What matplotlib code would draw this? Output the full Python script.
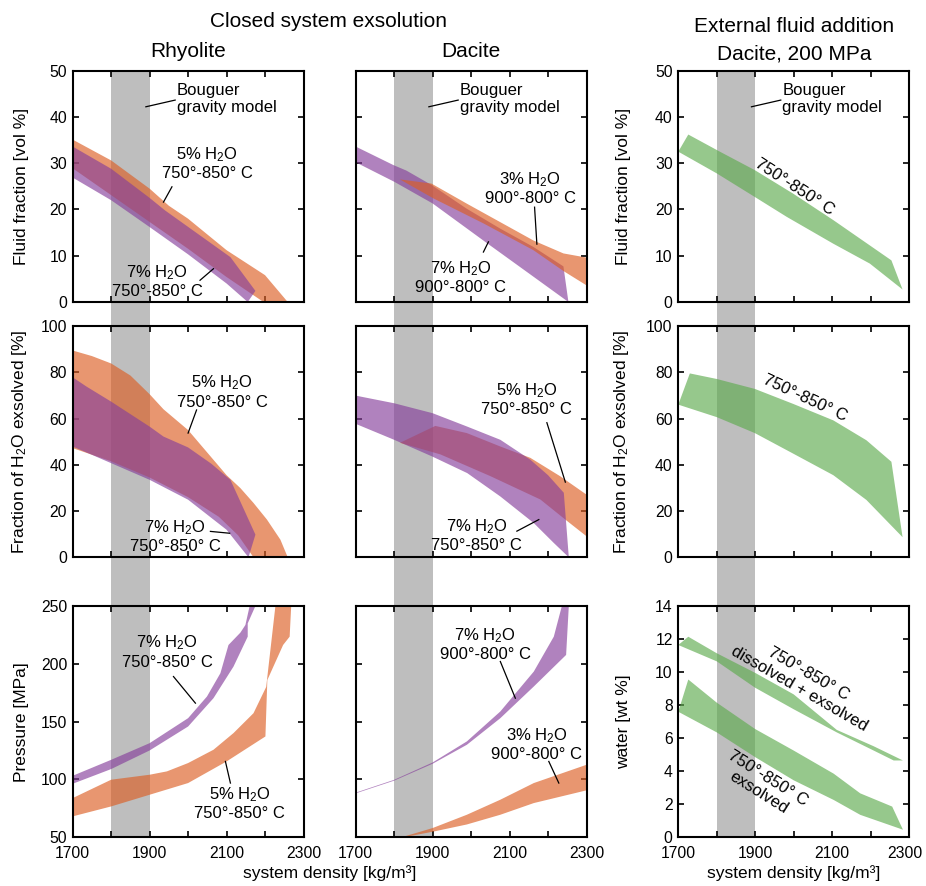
import matplotlib
matplotlib.use('Agg')
import matplotlib.pyplot as plt
import matplotlib.transforms as mtransforms
from matplotlib.patches import Rectangle

plt.rcParams['font.family'] = ['Liberation Sans', 'DejaVu Sans']
plt.rcParams['mathtext.fontset'] = 'custom'
plt.rcParams['mathtext.rm'] = 'Liberation Sans'
plt.rcParams['mathtext.it'] = 'Liberation Sans:italic'
plt.rcParams['mathtext.bf'] = 'Liberation Sans:bold'

# ============================================
# data, band = upper edge + lower edge
# ============================================

# row 1: fluid fraction [vol %]
rhy_ff5_top_x = [1700, 1800, 1900, 1950, 2000, 2100, 2200, 2259]
rhy_ff5_top_y = [35.1, 30.6, 24.5, 20.8, 18.0, 11.2, 5.8, 0.0]
rhy_ff5_bot_x = [1700, 1800, 1900, 2000, 2100, 2196]
rhy_ff5_bot_y = [28.9, 23.1, 17.3, 11.5, 5.4, 0.0]
rhy_ff7_top_x = [1700, 1800, 1900, 1940, 2110, 2175]
rhy_ff7_top_y = [33.6, 28.8, 22.5, 19.8, 9.7, 2.4]
rhy_ff7_bot_x = [1700, 1800, 1900, 2000, 2100, 2155]
rhy_ff7_bot_y = [26.9, 22.0, 16.2, 10.3, 4.0, 0.0]

dac_ff7_top_x = [1700, 1798, 1832, 1897, 1988, 2075, 2162, 2240]
dac_ff7_top_y = [33.6, 29.6, 28.4, 25.3, 20.2, 15.9, 11.9, 7.7]
dac_ff7_bot_x = [1700, 1800, 1900, 2040, 2150, 2253]
dac_ff7_bot_y = [30.2, 26.0, 21.3, 12.8, 6.2, 0.0]
dac_ff3_top_x = [1815, 1897, 1988, 2075, 2162, 2240, 2300]
dac_ff3_top_y = [26.5, 25.6, 21.3, 17.3, 13.3, 10.5, 9.6]
dac_ff3_bot_x = [1815, 1902, 2032, 2162, 2240, 2300]
dac_ff3_bot_y = [26.5, 22.4, 17.0, 11.2, 6.7, 3.6]

ext_ff_top_x = [1726, 1808, 1899, 1999, 2103, 2254, 2283]
ext_ff_top_y = [36.2, 32.5, 28.5, 23.4, 17.7, 9.0, 2.7]
ext_ff_bot_x = [1700, 1800, 1899, 1982, 2103, 2198, 2283]
ext_ff_bot_y = [32.5, 27.8, 22.7, 18.4, 12.6, 8.3, 2.7]

# row 2: fraction of H2O exsolved [%]
rhy_fx5_top_x = [1700, 1750, 1800, 1850, 1900, 1936, 2000, 2100, 2136, 2170, 2205, 2240, 2259]
rhy_fx5_top_y = [89.4, 87.0, 83.8, 78.6, 70.5, 64.0, 55.0, 35.5, 29.9, 23.5, 16.3, 7.6, 0.0]
rhy_fx5_bot_x = [1700, 1800, 1900, 2000, 2080, 2130, 2170]
rhy_fx5_bot_y = [47.2, 41.5, 34.5, 26.0, 17.5, 9.5, 0.0]
rhy_fx7_top_x = [1700, 1736, 1800, 1900, 1936, 2000, 2060, 2110, 2175]
rhy_fx7_top_y = [77.8, 73.8, 67.3, 56.5, 52.2, 47.5, 40.5, 33.5, 9.8]
rhy_fx7_bot_x = [1700, 1800, 1900, 2000, 2100, 2157]
rhy_fx7_bot_y = [47.9, 40.7, 33.5, 24.9, 11.9, 0.0]

dac_fx7_top_x = [1700, 1800, 1900, 1990, 2076, 2154, 2200, 2241]
dac_fx7_top_y = [69.9, 66.6, 62.3, 56.5, 50.8, 42.2, 35.5, 27.9]
dac_fx7_bot_x = [1700, 1800, 1900, 1990, 2076, 2163, 2215, 2254]
dac_fx7_bot_y = [57.7, 50.8, 43.5, 36.4, 26.3, 14.8, 6.2, 0.0]
dac_fx5_top_x = [1815, 1907, 1989, 2076, 2154, 2232, 2300]
dac_fx5_top_y = [49.5, 56.8, 53.7, 47.9, 43.0, 35.0, 27.1]
dac_fx5_bot_x = [1815, 1920, 2050, 2180, 2245, 2300]
dac_fx5_bot_y = [49.5, 44.5, 35.1, 25.0, 16.3, 9.1]

ext_fx_top_x = [1730, 1800, 1899, 1999, 2103, 2189, 2254]
ext_fx_top_y = [79.5, 77.1, 72.8, 66.3, 59.2, 50.6, 41.3]
ext_fx_bot_x = [1700, 1800, 1899, 1999, 2103, 2189, 2283]
ext_fx_bot_y = [66.0, 60.6, 53.7, 44.8, 35.5, 24.8, 8.7]

# row 3: pressure [MPa] / water [wt %]
rhy_p5_top_x = [1700, 1800, 1900, 1945, 2000, 2066, 2118, 2170, 2203, 2215, 2227]
rhy_p5_top_y = [83.9, 99.8, 104.1, 107.0, 114.2, 125.7, 140.1, 157.3, 180.0, 215.0, 250]
rhy_p5_bot_x = [1700, 1800, 1900, 2000, 2100, 2201, 2206, 2247, 2264, 2268]
rhy_p5_bot_y = [68.1, 76.7, 86.8, 96.9, 115.6, 137.2, 186.0, 216.3, 223.5, 250]
rhy_p7_top_x = [1700, 1800, 1900, 2000, 2049, 2084, 2105, 2136, 2149, 2160]
rhy_p7_top_y = [103.2, 117.0, 131.4, 153.0, 171.7, 191.9, 216.3, 227.0, 233.6, 250]
rhy_p7_bot_x = [1700, 1800, 1900, 2000, 2066, 2118, 2155, 2155, 2175]
rhy_p7_bot_y = [96.3, 109.0, 125.1, 145.8, 170.3, 197.6, 223.5, 235.0, 250]

dac_p7_top_x = [1700, 1800, 1900, 1989, 2076, 2163, 2215, 2236]
dac_p7_top_y = [88.6, 99.7, 114.7, 132.9, 158.8, 193.3, 223.5, 250]
dac_p7_bot_x = [1700, 1800, 1900, 1989, 2076, 2163, 2247, 2254]
dac_p7_bot_y = [88.0, 99.0, 113.6, 130.0, 153.0, 180.4, 207.7, 250]
dac_p3_top_x = [1824, 1900, 1989, 2076, 2163, 2300]
dac_p3_top_y = [50.5, 58.0, 69.5, 82.5, 96.9, 112.7]
dac_p3_bot_x = [1824, 1900, 1989, 2076, 2163, 2300]
dac_p3_bot_y = [50.0, 54.8, 61.1, 69.5, 79.6, 90.6]

ext_wt_top_x = [1726, 1800, 1900, 2000, 2112, 2208, 2284]
ext_wt_top_y = [12.14, 11.14, 9.95, 8.65, 6.50, 5.51, 4.65]
ext_wt_bot_x = [1700, 1800, 1900, 2000, 2112, 2208, 2260]
ext_wt_bot_y = [11.64, 10.65, 9.05, 7.75, 6.35, 5.25, 4.65]
ext_we_top_x = [1726, 1800, 1900, 2000, 2104, 2173, 2256]
ext_we_top_y = [9.55, 8.15, 6.55, 5.25, 3.85, 2.66, 1.86]
ext_we_bot_x = [1700, 1800, 1900, 2000, 2104, 2173, 2284]
ext_we_bot_y = [7.6, 6.35, 4.85, 3.45, 2.26, 1.36, 0.46]

bouguer = (1800, 1900)   # density range of the gravity model

ORANGE = '#DC5E23'
PURPLE = '#863F9B'
GREEN = '#5EAB4E'
ALPHA = 0.65

# ============================================
# helpers
# ============================================

def band(ax, xt, yt, xb, yb, color):
    ax.fill(list(xt) + list(xb)[::-1], list(yt) + list(yb)[::-1],
            color=color, alpha=ALPHA, lw=0, zorder=2)


def note(ax, s, x, y, line=None, rot=0):
    ax.text(x, y, s, ha='center', va='center', fontsize=12, rotation=rot,
            rotation_mode='anchor', zorder=5)
    if line is not None:
        ax.plot(line[0], line[1], color='k', lw=0.9, zorder=5)


def bouguer_note(ax):
    ax.text(0.45, 0.877, 'Bouguer\ngravity model', transform=ax.transAxes,
            ha='left', va='center', fontsize=12)
    ax.plot([0.317, 0.444], [0.844, 0.873], transform=ax.transAxes,
            color='k', lw=0.9)


# ============================================
# figure
# ============================================

W, H = 926, 886
fig = plt.figure(figsize=(W / 100, H / 100), dpi=100)

col_left = [72.7, 355.7, 678.3]
row_top = [70.7, 326.0, 606.0]
aw, ah = 230.8, 231.3

axes = [[None] * 3 for _ in range(3)]
for r in range(3):
    for c in range(3):
        ax = fig.add_axes([col_left[c] / W, 1 - (row_top[r] + ah) / H, aw / W, ah / H])
        ax.set_facecolor('none')
        ax.set_xlim(1700, 2300)
        ax.set_xticks(range(1700, 2301, 100))
        if r == 2:
            ax.set_xticklabels(['1700', '', '1900', '', '2100', '', '2300'])
        else:
            ax.set_xticklabels([])
        ax.tick_params(direction='in', top=True, right=True, length=4, width=1.2,
                       labelsize=11.3, pad=6)
        ax.tick_params(axis='y', pad=4)
        for sp in ax.spines.values():
            sp.set_linewidth(1.5)
        axes[r][c] = ax

# gray Bouguer band through each column
for c in range(3):
    trans = mtransforms.blended_transform_factory(axes[0][c].transData, fig.transFigure)
    y0 = 1 - (row_top[2] + ah) / H
    y1 = 1 - row_top[0] / H
    fig.add_artist(Rectangle((bouguer[0], y0), bouguer[1] - bouguer[0], y1 - y0,
                             transform=trans, color='#BEBEBE', lw=0, zorder=-1))

# y axes
for c in range(3):
    axes[0][c].set_ylim(0, 50)
    axes[0][c].set_yticks(range(0, 51, 10))
    axes[1][c].set_ylim(0, 100)
    axes[1][c].set_yticks(range(0, 101, 20))
for c in range(2):
    axes[2][c].set_ylim(50, 250)
    axes[2][c].set_yticks(range(50, 251, 50))
axes[2][2].set_ylim(0, 14)
axes[2][2].set_yticks(range(0, 15, 2))
for r in range(3):
    axes[r][1].set_yticklabels([])

ylabels = [['Fluid fraction [vol %]', None, 'Fluid fraction [vol %]'],
           ['Fraction of H$_\\mathrm{2}$O exsolved [%]', None,
            'Fraction of H$_\\mathrm{2}$O exsolved [%]'],
           ['Pressure [MPa]', None, 'water [wt %]']]
for r in range(3):
    for c in (0, 2):
        axes[r][c].set_ylabel(ylabels[r][c], fontsize=12.5)
        axes[r][c].yaxis.set_label_coords(-0.19 if c == 0 else -0.205, 0.5)

# keep the last tick label of the right column inside the figure
lab = axes[2][2].get_xticklabels()[-1]
lab.set_transform(lab.get_transform() + mtransforms.ScaledTranslation(-0.04, 0, fig.dpi_scale_trans))

# --- row 1 ---
ax = axes[0][0]
band(ax, rhy_ff5_top_x, rhy_ff5_top_y, rhy_ff5_bot_x, rhy_ff5_bot_y, ORANGE)
band(ax, rhy_ff7_top_x, rhy_ff7_top_y, rhy_ff7_bot_x, rhy_ff7_bot_y, PURPLE)
note(ax, '5% H$_\\mathrm{2}$O\n750°-850° C', 2049, 30.0, ([1936, 1958], [21.6, 24.9]))
note(ax, '7% H$_\\mathrm{2}$O\n750°-850° C', 1919, 4.5, ([2031, 2066], [4.7, 7.2]))
bouguer_note(ax)

ax = axes[0][1]
band(ax, dac_ff7_top_x, dac_ff7_top_y, dac_ff7_bot_x, dac_ff7_bot_y, PURPLE)
band(ax, dac_ff3_top_x, dac_ff3_top_y, dac_ff3_bot_x, dac_ff3_bot_y, ORANGE)
note(ax, '3% H$_\\mathrm{2}$O\n900°-800° C', 2154, 24.6, ([2165, 2171], [20.5, 12.5]))
note(ax, '7% H$_\\mathrm{2}$O\n900°-800° C', 1973, 5.4, ([2032, 2045], [10.8, 13.0]))
bouguer_note(ax)

ax = axes[0][2]
band(ax, ext_ff_top_x, ext_ff_top_y, ext_ff_bot_x, ext_ff_bot_y, GREEN)
note(ax, '750°-850° C', 2001, 24.9, rot=-33)
bouguer_note(ax)

# --- row 2 ---
ax = axes[1][0]
band(ax, rhy_fx5_top_x, rhy_fx5_top_y, rhy_fx5_bot_x, rhy_fx5_bot_y, ORANGE)
band(ax, rhy_fx7_top_x, rhy_fx7_top_y, rhy_fx7_bot_x, rhy_fx7_bot_y, PURPLE)
note(ax, '5% H$_\\mathrm{2}$O\n750°-850° C', 2088, 71.7, ([2000, 2022], [53.7, 63.7]))
note(ax, '7% H$_\\mathrm{2}$O\n750°-850° C', 1966, 9.1, ([2058, 2108], [11.2, 10.4]))

ax = axes[1][1]
band(ax, dac_fx5_top_x, dac_fx5_top_y, dac_fx5_bot_x, dac_fx5_bot_y, ORANGE)
band(ax, dac_fx7_top_x, dac_fx7_top_y, dac_fx7_bot_x, dac_fx7_bot_y, PURPLE)
note(ax, '5% H$_\\mathrm{2}$O\n750°-850° C', 2145, 68.3, ([2197, 2245], [58.2, 32.5]))
note(ax, '7% H$_\\mathrm{2}$O\n750°-850° C', 2015, 9.5, ([2119, 2176], [11.3, 16.3]))

ax = axes[1][2]
band(ax, ext_fx_top_x, ext_fx_top_y, ext_fx_bot_x, ext_fx_bot_y, GREEN)
note(ax, '750°-850° C', 2030, 69.0, rot=-25)

# --- row 3 ---
ax = axes[2][0]
band(ax, rhy_p5_top_x, rhy_p5_top_y, rhy_p5_bot_x, rhy_p5_bot_y, ORANGE)
band(ax, rhy_p7_top_x, rhy_p7_top_y, rhy_p7_bot_x, rhy_p7_bot_y, PURPLE)
note(ax, '7% H$_\\mathrm{2}$O\n750°-850° C', 1945, 210.6, ([1962, 2019], [189, 166]))
note(ax, '5% H$_\\mathrm{2}$O\n750°-850° C', 2134, 79.6, ([2097, 2110], [115.6, 96.9]))

ax = axes[2][1]
band(ax, dac_p7_top_x, dac_p7_top_y, dac_p7_bot_x, dac_p7_bot_y, PURPLE)
band(ax, dac_p3_top_x, dac_p3_top_y, dac_p3_bot_x, dac_p3_bot_y, ORANGE)
note(ax, '7% H$_\\mathrm{2}$O\n900°-800° C', 2037, 217.0, ([2076, 2115], [202, 170.3]))
note(ax, '3% H$_\\mathrm{2}$O\n900°-800° C', 2171, 130.8, ([2202, 2228], [115.6, 96.9]))

ax = axes[2][2]
band(ax, ext_wt_top_x, ext_wt_top_y, ext_wt_bot_x, ext_wt_bot_y, GREEN)
band(ax, ext_we_top_x, ext_we_top_y, ext_we_bot_x, ext_we_bot_y, GREEN)
note(ax, '750°-850° C\ndissolved + exsolved', 2027, 9.45, rot=-30)
note(ax, '750°-850° C\nexsolved', 1920, 3.12, rot=-32)

# titles and shared x labels
fig.text(328.5 / W, 1 - 26.7 / H, 'Closed system exsolution', ha='center', va='baseline', fontsize=15)
fig.text(188 / W, 1 - 56.7 / H, 'Rhyolite', ha='center', va='baseline', fontsize=15)
fig.text(471 / W, 1 - 56.7 / H, 'Dacite', ha='center', va='baseline', fontsize=15)
fig.text(794 / W, 1 - 31.7 / H, 'External fluid addition', ha='center', va='baseline', fontsize=15)
fig.text(794 / W, 1 - 59.5 / H, 'Dacite, 200 MPa', ha='center', va='baseline', fontsize=15)
fig.text(330 / W, 1 - 878 / H, 'system density [kg/m³]', ha='center', va='baseline', fontsize=12.5)
fig.text(794 / W, 1 - 878 / H, 'system density [kg/m³]', ha='center', va='baseline', fontsize=12.5)

fig.savefig('out.png', dpi=100)
